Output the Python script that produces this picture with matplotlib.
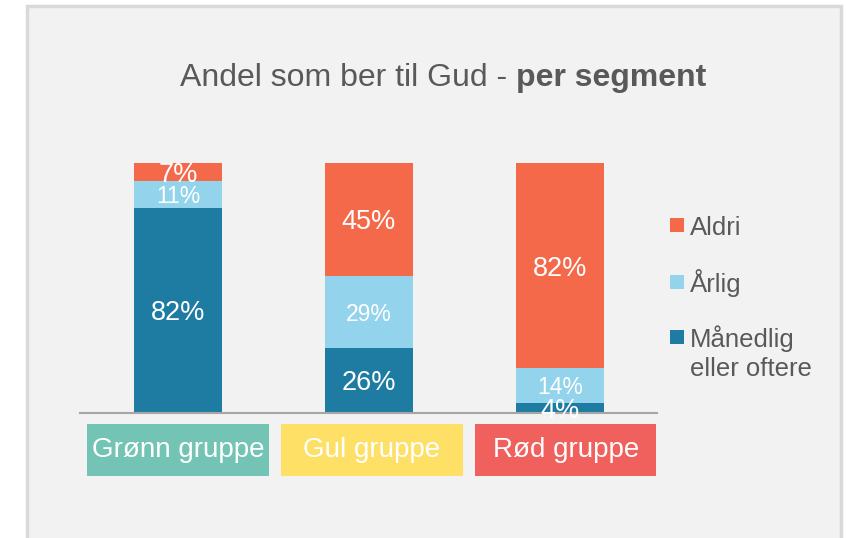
import matplotlib
matplotlib.use("Agg")
import matplotlib.pyplot as plt
from matplotlib.patches import Rectangle

plt.rcParams["font.family"] = ["Liberation Sans", "DejaVu Sans"]

groups = ["Grønn gruppe", "Gul gruppe", "Rød gruppe"]
series = ["Månedlig\neller oftere", "Årlig", "Aldri"]
maanedlig = [82, 26, 4]
aarlig = [11, 29, 14]
aldri = [7, 45, 82]

bar_colors = ["#1E7BA2", "#93D3EB", "#F4694A"]
group_colors = ["#73C4B4", "#FEE067", "#F0605C"]
label_sizes = [19.5, 16.5, 19.5]
text_gray = "#595959"

W, H = 846, 538
fig = plt.figure(figsize=(W / 100, H / 100), dpi=100)
fig.patch.set_facecolor("white")

# grey card behind the chart
fig.patches.append(Rectangle((27 / W, -0.02), (841 - 27) / W, 1.02 - 6 / H,
                             transform=fig.transFigure, facecolor="#F2F2F2",
                             edgecolor="#D9D9D9", linewidth=2.5, zorder=-5))

ax = fig.add_axes([80 / W, (H - 413) / H, 577 / W, 250 / H])
ax.set_facecolor("none")
ax.set_zorder(1)

x = list(range(len(groups)))
bottom = [0, 0, 0]
for vals, color, size in zip([maanedlig, aarlig, aldri], bar_colors, label_sizes):
    ax.bar(x, vals, width=0.46, bottom=bottom, color=color, edgecolor="none")
    for xi, b, v in zip(x, bottom, vals):
        ax.text(xi, b + v / 2, f"{v}%", ha="center", va="center_baseline",
                color="white", fontsize=size)
    bottom = [b + v for b, v in zip(bottom, vals)]

ax.set_xlim(-0.513, 2.508)
ax.set_ylim(0, 100)
ax.set_xticks([])
ax.set_yticks([])
for side in ["top", "right", "left"]:
    ax.spines[side].set_visible(False)
ax.spines["bottom"].set_color("#A6A6A6")
ax.spines["bottom"].set_linewidth(1.5)

# coloured group boxes under the axis
trans = ax.get_xaxis_transform()
for xi, name, color in zip(x, groups, group_colors):
    xc = xi + 0.015 * xi
    ax.add_patch(Rectangle((xc - 0.475, -0.252), 0.95, 0.208,
                           transform=trans, facecolor=color, edgecolor="none",
                           clip_on=False))
    ax.text(xc, -0.135, name, transform=trans, ha="center",
            va="center_baseline", color="white", fontsize=20)

# legend, top entry first; multi-line labels hang below the square
legend_rows = [(series[2], bar_colors[2], 225), (series[1], bar_colors[1], 282),
               (series[0], bar_colors[0], 337)]
for label, color, yc in legend_rows:
    fig.patches.append(Rectangle((670 / W, (H - yc - 7) / H), 14 / W, 14 / H,
                                 transform=fig.transFigure, facecolor=color,
                                 edgecolor="none"))
    for k, line in enumerate(label.split("\n")):
        fig.text(690 / W, (H - yc - 10 - 29 * k) / H, line, ha="left",
                 va="baseline", color=text_gray, fontsize=18.5)

# title: regular part followed by a bold part, centred as a whole
ty = (H - 86) / H
t1 = fig.text(0, ty, "Andel som ber til Gud - ", color=text_gray, fontsize=23, va="baseline")
t2 = fig.text(0, ty, "per segment", color=text_gray, fontsize=23, fontweight="bold", va="baseline")
fig.canvas.draw()
r = fig.canvas.get_renderer()
w1 = t1.get_window_extent(r).width
w2 = t2.get_window_extent(r).width
x0 = 443 - (w1 + w2) / 2
t1.set_x(x0 / W)
t2.set_x((x0 + w1) / W)

fig.savefig("out.png", dpi=100)
